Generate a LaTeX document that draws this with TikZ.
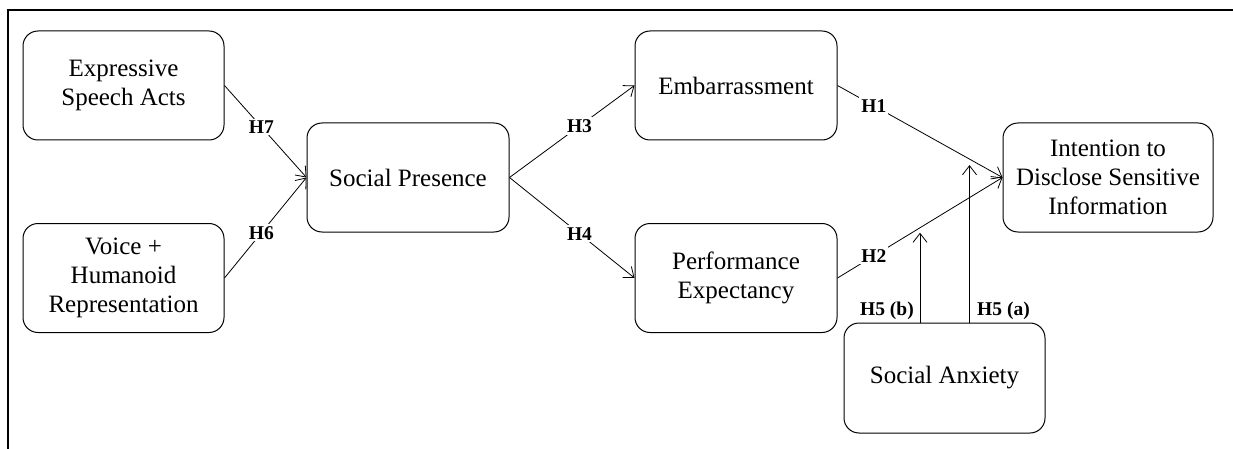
\documentclass[tikz,border=0pt]{standalone}
\usepackage{fontspec}
\setmainfont{Liberation Serif}
\usetikzlibrary{arrows.meta,calc}
\begin{document}
\begin{tikzpicture}[x=1pt,y=-1pt,
 box/.style={draw, line width=1pt, rounded corners=15pt, minimum width=201pt, minimum height=109pt, align=center, font=\fontsize{25}{29}\selectfont, inner sep=0pt},
 conn/.style={line width=0.8pt, -{Straight Barb[length=9pt,width=14pt,line width=0.8pt]}},
 hlab/.style={fill=white, font=\bfseries\fontsize{19.5}{21}\selectfont, inner sep=2pt},
 slab/.style={font=\bfseries\fontsize{19.5}{21}\selectfont, inner sep=0pt}]
\useasboundingbox (0,0) rectangle (1233,449);
\draw[line width=2pt] (8,449) -- (8,10) -- (1233,10);
\node[box] (esa) at (123.5,85.5) {Expressive\\Speech Acts};
\node[box] (vhr) at (123.5,278) {Voice +\\Humanoid\\Representation};
\node[box, minimum width=202pt] (sp) at (408,177.5) {Social Presence};
\node[box, minimum width=202pt] (emb) at (736,85.5) {Embarrassment};
\node[box, minimum width=202pt] (pe) at (736,278) {Performance\\Expectancy};
\node[box, minimum width=210pt] (int) at (1108,177.5) {Intention to\\Disclose Sensitive\\Information};
\node[box, minimum height=110pt] (sa) at (944.5,378) {Social Anxiety};
\draw[conn] (esa.east) -- node[hlab, pos=0.45] {H7} (sp.west);
\draw[conn] (vhr.east) -- node[hlab, pos=0.45] {H6} (sp.west);
\draw[conn] (sp.east) -- node[hlab, pos=0.56] {H3} (emb.west);
\draw[conn] (sp.east) -- node[hlab, pos=0.56] {H4} (pe.west);
\draw[conn] (emb.east) -- node[hlab, pos=0.22] {H1} (int.west);
\draw[conn] (pe.east) -- node[hlab, pos=0.22] {H2} (int.west);
\coordinate (h5b) at ($(pe.east)!0.5!(int.west)+(0,5)$);
\coordinate (h5a) at ($(emb.east)!0.8!(int.west)+(0,6)$);
\draw[conn] (sa.north -| h5b) -- (h5b);
\draw[conn] (sa.north -| h5a) -- (h5a);
\node[slab, anchor=east] (l5b) at (914,311) {H5 (b)};
\node[slab, anchor=west] (l5a) at (977,311) {H5 (a)};
\end{tikzpicture}
\end{document}
